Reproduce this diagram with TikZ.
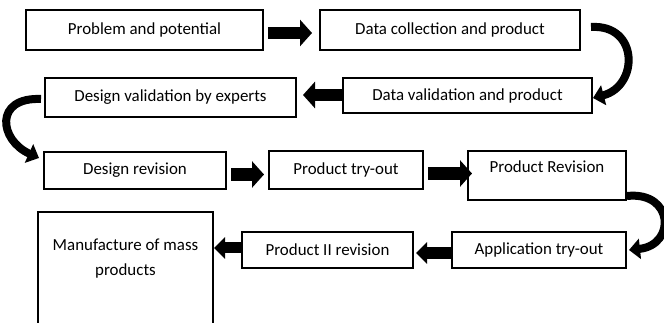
\documentclass[tikz,border=0pt]{standalone}
\usepackage{fontspec}
\setmainfont{Carlito}
\usetikzlibrary{arrows.meta,calc}
\tikzset{
  box/.style={draw=black, line width=2pt, fill=white, inner sep=2pt,
    font=\fontsize{16.9}{22}\selectfont},
  txt/.style={inner sep=0pt, align=center, font=\fontsize{16.9}{22}\selectfont},
  blk/.style={line width=12.5pt, line cap=butt, -{Triangle[length=12pt,width=26pt]}},
  blksmall/.style={line width=11pt, line cap=butt, -{Triangle[length=11pt,width=21pt]}},
  curvy/.style={line width=8pt, line cap=butt, -{Triangle[length=11pt,width=20pt]}}
}
\begin{document}
\begin{tikzpicture}[x=1pt,y=-1pt]
\useasboundingbox (0,0) rectangle (664,323);
\clip (0,0) rectangle (664,323);
% boxes
\node[box, minimum width=237pt, minimum height=40pt] (b1) at (144.5,30) {Problem and potential};
\node[box, minimum width=260pt, minimum height=40pt] (b2) at (450,30) {Data collection and product};
\node[box, minimum width=249pt, minimum height=35pt] (b3) at (467.5,95.5) {Data validation and product};
\node[box, minimum width=251pt, minimum height=39pt] (b4) at (170.5,97.5) {Design validation by experts};
\node[box, minimum width=182pt, minimum height=37pt] (b5) at (135,170.5) {Design revision};
\node[box, minimum width=154pt, minimum height=38pt] (b6) at (346,170) {Product try-out};
\node[box, minimum width=158pt, minimum height=49pt] (b7) at (547,175.5) {};
\node[txt] (t7) at (547,167) {Product Revision};
\node[box, minimum width=174pt, minimum height=36pt] (b8) at (539,250) {Application try-out};
\node[box, minimum width=171pt, minimum height=36pt] (b9) at (327.5,250) {Product II revision};
\node[box, minimum width=175pt, minimum height=128pt] (b10) at (125.5,276) {};
\node[txt] (t10) at (125.5,259) {Manufacture of mass\\[3pt]products};
% straight block arrows
\draw[blk] ($(b1.east)+(4,3)$) -- ($(b2.west)+(-7,3)$);
\draw[blk] ($(b3.west)+(0,-0.5)$) -- ($(b4.east)+(6,-2.5)$);
\draw[blk] ($(b5.east)+(4,4)$) -- ($(b6.west)+(-4,4.5)$);
\draw[blk] ($(b6.east)+(4,3.5)$) -- ($(b7.west)+(5,-2)$);
\draw[blksmall] ($(b8.west)+(0,3)$) -- ($(b9.east)+(2,3)$);
\draw[blksmall] ($(b9.west)+(0,-2)$) coordinate (a6s) -- (a6s -| b10.east);
% curved arrows
\draw[curvy] ($(b2.east)+(10,-3)$) .. controls +(48,-3) and +(46,-12) .. ($(b3.east)+(0,2.5)$);
\draw[curvy] ($(b4.west)+(-3,1.5)$) .. controls +(-47,-2) and +(-40,-18) .. ($(b5.west)+(-4,-12.5)$);
\draw[curvy] ($(b7.south east)+(0,-5)$) .. controls +(47,-5) and +(47,-5) .. ($(b8.east)+(2,0)$);
\end{tikzpicture}
\end{document}
